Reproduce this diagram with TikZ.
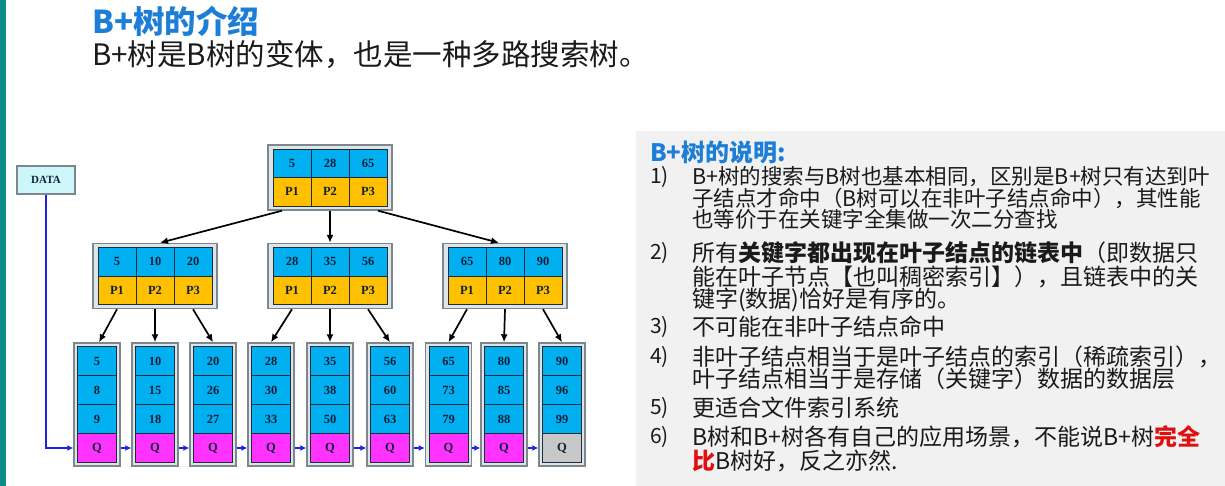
\documentclass[tikz,border=0pt]{standalone}
\usepackage{fontspec}
\setmainfont{Liberation Serif}
\newfontfamily\cjk{Noto Sans CJK SC}
\usetikzlibrary{arrows.meta}
\definecolor{keyblue}{HTML}{00B0F0}
\definecolor{pyellow}{HTML}{FFC000}
\definecolor{qmag}{HTML}{FF33FF}
\definecolor{qgray}{HTML}{C8C8C8}
\definecolor{framefill}{HTML}{DCE6EA}
\definecolor{framedraw}{HTML}{7E888C}
\definecolor{celldraw}{HTML}{1F2A3A}
\definecolor{celltext}{HTML}{10203A}
\definecolor{titleblue}{HTML}{1C7ED6}
\definecolor{panelgray}{HTML}{F1F1F1}
\definecolor{datafill}{HTML}{CCF6FA}
\definecolor{linkblue}{HTML}{2020E6}
\definecolor{tealstrip}{HTML}{0E8C86}
\definecolor{hired}{HTML}{E01010}
\definecolor{bodytext}{HTML}{1A1A1A}
\tikzset{
  frame/.style={draw=framedraw, fill=framefill, line width=1.4pt, inner sep=0pt},
  cellbase/.style={draw=celldraw, line width=0.6pt, inner sep=0pt,
    font=\bfseries\fontsize{12.5}{12.5}\selectfont, text=celltext},
  kcell/.style={cellbase, fill=keyblue, minimum width=38pt, minimum height=28.5pt},
  pcell/.style={cellbase, fill=pyellow, minimum width=38pt, minimum height=28.5pt},
  lcell/.style={cellbase, fill=keyblue, minimum width=39pt, minimum height=29pt},
  qcell/.style={cellbase, fill=qmag, minimum width=39pt, minimum height=29pt},
  qlast/.style={cellbase, fill=qgray, minimum width=39pt, minimum height=29pt},
  tarrow/.style={-{Latex[length=8pt,width=7pt]}, line width=1.7pt, black},
  barrow/.style={-{Latex[length=6pt,width=6pt]}, line width=1.8pt, linkblue},
  numtxt/.style={anchor=west, inner sep=0pt, font=\cjk\fontsize{21}{21}\selectfont, text=bodytext},
  itxt/.style={anchor=west, inner sep=0pt, font=\cjk\fontsize{23}{23}\selectfont, text=bodytext},
  itxtsmall/.style={anchor=west, inner sep=0pt, font=\cjk\fontsize{21.5}{21.5}\selectfont, text=bodytext},
}
\newcommand{\BPinner}[6]{%
  \node[frame, minimum width=124pt, minimum height=65pt] (#1) at (#2,#3) {};
  \node[kcell, xshift=-38pt, yshift=14.25pt] (#1-k1) at (#1) {#4};
  \node[kcell, yshift=14.25pt] (#1-k2) at (#1) {#5};
  \node[kcell, xshift=38pt, yshift=14.25pt] (#1-k3) at (#1) {#6};
  \node[pcell, xshift=-38pt, yshift=-14.25pt] (#1-p1) at (#1) {P1};
  \node[pcell, yshift=-14.25pt] (#1-p2) at (#1) {P2};
  \node[pcell, xshift=38pt, yshift=-14.25pt] (#1-p3) at (#1) {P3};
}
\newcommand{\BPleaf}[6]{%
  \node[frame, minimum width=46pt, minimum height=123pt] (#1) at (#2,404.5) {};
  \node[lcell, yshift=43.5pt] (#1-a) at (#1) {#3};
  \node[lcell, yshift=14.5pt] (#1-b) at (#1) {#4};
  \node[lcell, yshift=-14.5pt] (#1-c) at (#1) {#5};
  \node[#6, yshift=-43.5pt] (#1-q) at (#1) {Q};
}
\begin{document}
\begin{tikzpicture}[x=1pt, y=-1pt]
\useasboundingbox (0,0) rectangle (1225,486);
\fill[white] (0,0) rectangle (1225,486);
\fill[tealstrip] (0,0) rectangle (6,486);
\fill[panelgray] (636,131) rectangle (1225,486);

% title
\node[anchor=west, inner sep=0pt, font=\cjk\bfseries\fontsize{31.5}{31.5}\selectfont, text=titleblue] (title) at (92,21) {B+树的介绍};
\node[anchor=west, inner sep=0pt, font=\cjk\fontsize{29.5}{29.5}\selectfont, text=bodytext] (subtitle) at (92,55) {B+树是B树的变体，也是一种多路搜索树。};

% tree
\BPinner{root}{330}{177.5}{5}{28}{65}
\BPinner{na}{155}{276}{5}{10}{20}
\BPinner{nb}{330}{276}{28}{35}{56}
\BPinner{nc}{505}{276}{65}{80}{90}

\BPleaf{la}{97}{5}{8}{9}{qcell}
\BPleaf{lb}{155}{10}{15}{18}{qcell}
\BPleaf{lc}{213}{20}{26}{27}{qcell}
\BPleaf{ld}{271}{28}{30}{33}{qcell}
\BPleaf{le}{330}{35}{38}{50}{qcell}
\BPleaf{lf}{390}{56}{60}{63}{qcell}
\BPleaf{lg}{448.5}{65}{73}{79}{qcell}
\BPleaf{lh}{504}{80}{85}{88}{qcell}
\BPleaf{li}{562}{90}{96}{99}{qlast}

\node[draw=framedraw, fill=datafill, line width=1.2pt, minimum width=58pt, minimum height=28pt,
  inner sep=0pt, font=\bfseries\fontsize{11}{11}\selectfont, text=celltext] (data) at (46,180) {DATA};

% root -> level 2
\draw[tarrow] ([xshift=-48pt]root.south) -- ([xshift=5pt]na.north);
\draw[tarrow] (root.south) -- (nb.north);
\draw[tarrow] ([xshift=48pt]root.south) -- ([xshift=-6pt]nc.north);
% level 2 -> leaves
\draw[tarrow] ([xshift=-38pt]na.south) -- ([xshift=2pt]la.north);
\draw[tarrow] (na.south) -- (lb.north);
\draw[tarrow] ([xshift=38pt]na.south) -- (lc.north);
\draw[tarrow] ([xshift=-38pt]nb.south) -- (ld.north);
\draw[tarrow] (nb.south) -- (le.north);
\draw[tarrow] ([xshift=38pt]nb.south) -- (lf.north);
\draw[tarrow] ([xshift=-38pt]nc.south) -- (lg.north);
\draw[tarrow] (nc.south) -- (lh.north);
\draw[tarrow] ([xshift=38pt]nc.south) -- (li.north);

% leaf links
\draw[barrow] (data.south) |- (la.west |- la-q);
\draw[barrow] (la.east |- la-q) -- (lb.west |- lb-q);
\draw[barrow] (lb.east |- lb-q) -- (lc.west |- lc-q);
\draw[barrow] (lc.east |- lc-q) -- (ld.west |- ld-q);
\draw[barrow] (ld.east |- ld-q) -- (le.west |- le-q);
\draw[barrow] (le.east |- le-q) -- (lf.west |- lf-q);
\draw[barrow] (lf.east |- lf-q) -- (lg.west |- lg-q);
\draw[barrow] (lg.east |- lg-q) -- (lh.west |- lh-q);
\draw[barrow] (lh.east |- lh-q) -- (li.west |- li-q);

% panel
\node[anchor=west, inner sep=0pt, font=\cjk\bfseries\fontsize{24}{24}\selectfont, text=titleblue] (ph) at (650,152) {B+树的说明:};
\node[numtxt] (i1) at (650,177) {1)};
\node[itxtsmall] (t1a) at (692,177) {B+树的搜索与B树也基本相同，区别是B+树只有达到叶};
\node[itxtsmall] (t1b) at (692,198) {子结点才命中（B树可以在非叶子结点命中），其性能};
\node[itxtsmall] (t1c) at (692,219) {也等价于在关键字全集做一次二分查找};
\node[numtxt] (i2) at (650,253) {2)};
\node[itxt] (t2a) at (692,253) {所有{\bfseries 关键字都出现在叶子结点的链表中}（即数据只};
\node[itxt] (t2b) at (692,277) {能在叶子节点【也叫稠密索引】），且链表中的关};
\node[itxt] (t2c) at (692,300) {键字(数据)恰好是有序的。};
\node[numtxt] (i3) at (650,327) {3)};
\node[itxt] (t3a) at (692,327) {不可能在非叶子结点命中};
\node[numtxt] (i4) at (650,357) {4)};
\node[itxt] (t4a) at (692,357) {非叶子结点相当于是叶子结点的索引（稀疏索引），};
\node[itxt] (t4b) at (692,379) {叶子结点相当于是存储（关键字）数据的数据层};
\node[numtxt] (i5) at (650,408) {5)};
\node[itxt] (t5a) at (692,408) {更适合文件索引系统};
\node[numtxt] (i6) at (650,437) {6)};
\node[itxt] (t6a) at (692,437) {B树和B+树各有自己的应用场景，不能说B+树{\bfseries\color{hired}完全}};
\node[itxt] (t6b) at (692,461) {{\bfseries\color{hired}比}B树好，反之亦然.};
\end{tikzpicture}
\end{document}
